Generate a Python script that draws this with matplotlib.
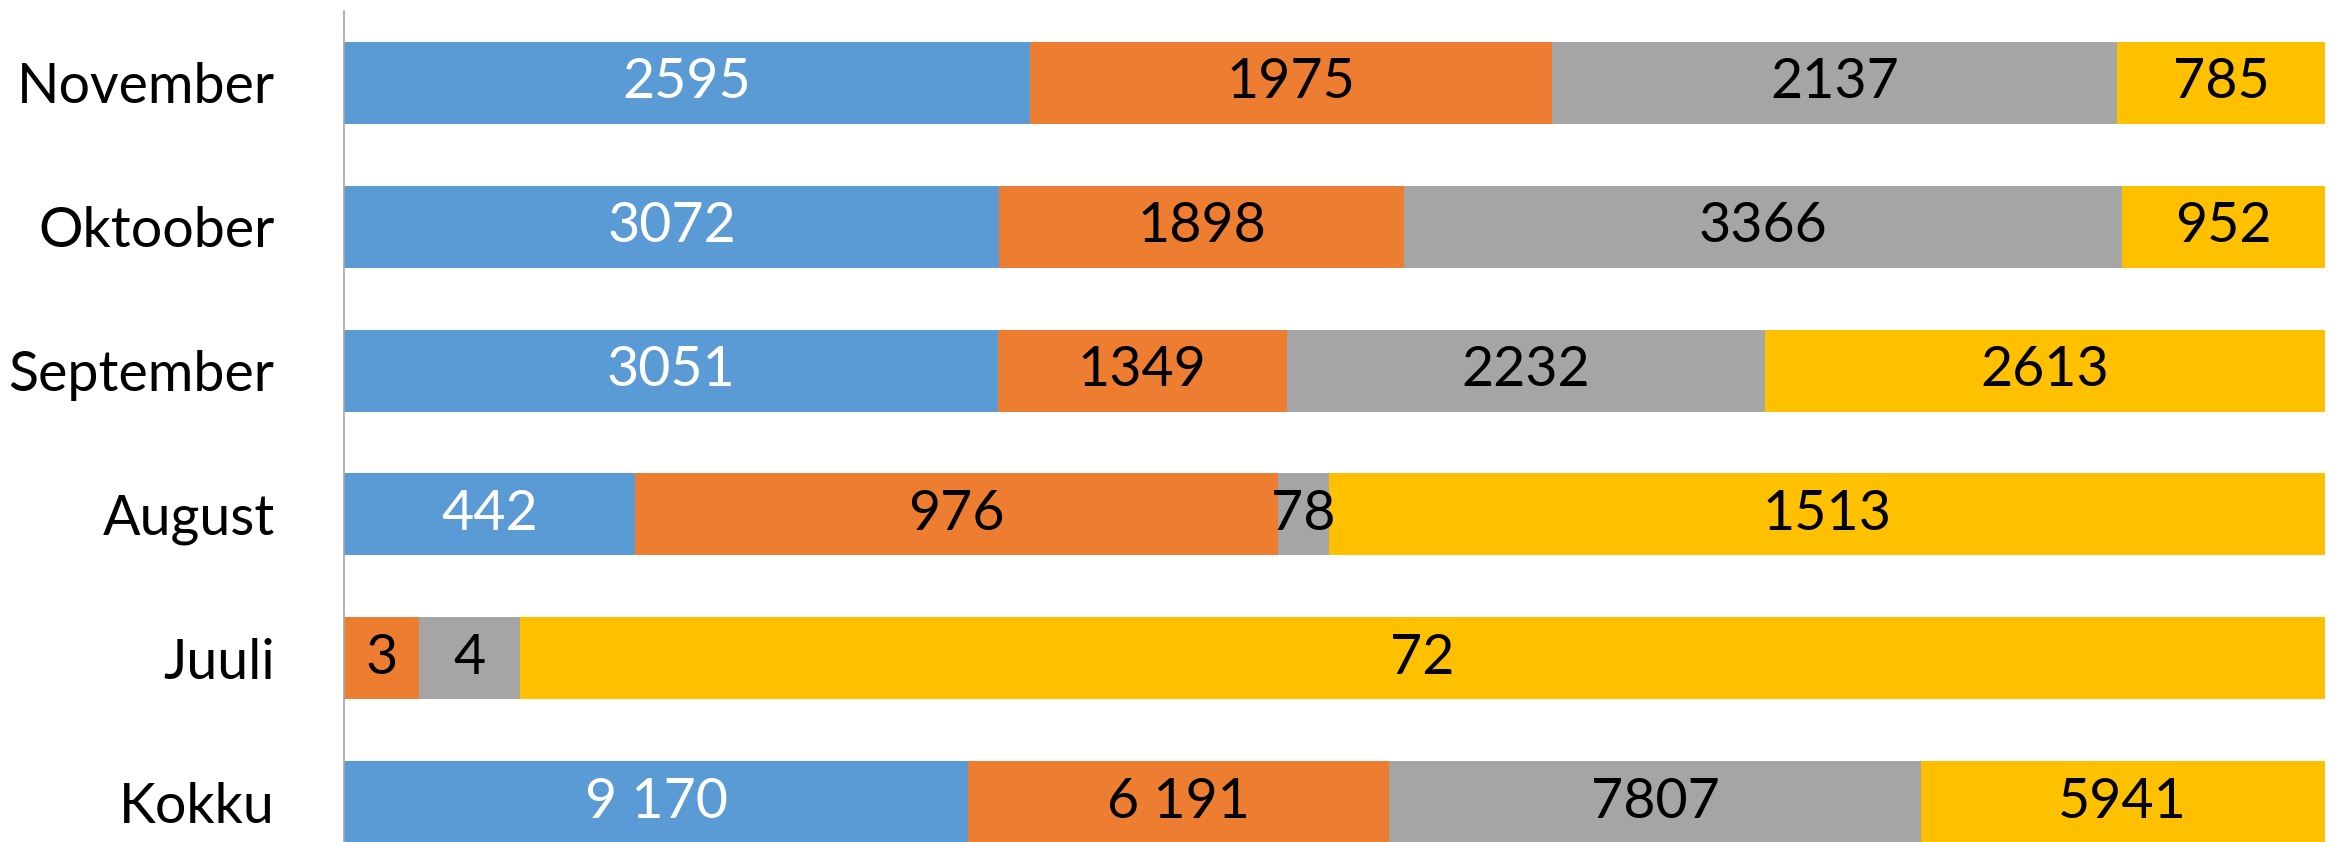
import matplotlib
matplotlib.use("Agg")
import matplotlib.pyplot as plt
import numpy as np

plt.rcParams['font.family'] = ['Lato', 'DejaVu Sans']

categories = ["Kokku", "Juuli", "August", "September", "Oktoober", "November"]
series1 = [9170, 0, 442, 3051, 3072, 2595]
series2 = [6191, 3, 976, 1349, 1898, 1975]
series3 = [7807, 4, 78, 2232, 3366, 2137]
series4 = [5941, 72, 1513, 2613, 952, 785]
labels1 = ["9 170", "", "442", "3051", "3072", "2595"]
labels2 = ["6 191", "3", "976", "1349", "1898", "1975"]
labels3 = ["7807", "4", "78", "2232", "3366", "2137"]
labels4 = ["5941", "72", "1513", "2613", "952", "785"]

colors = ["#5B9BD5", "#ED7D31", "#A5A5A5", "#FFC000"]
text_colors = ["white", "black", "black", "black"]

series = [series1, series2, series3, series4]
labels = [labels1, labels2, labels3, labels4]

data = np.array(series, dtype=float)
totals = data.sum(axis=0)
pct = data / totals * 100

fig = plt.figure(figsize=(23.33, 8.42), dpi=100)
ax = fig.add_axes([0.1475, -0.038, 0.849, 1.025])

y = np.arange(len(categories))
left = np.zeros(len(categories))
for i in range(4):
    ax.barh(y, pct[i], left=left, height=0.57, color=colors[i], linewidth=0)
    for j in range(len(categories)):
        if data[i, j] > 0 and labels[i][j]:
            ax.text(left[j] + pct[i, j] / 2, y[j], labels[i][j],
                    ha='center', va='center', color=text_colors[i], fontsize=40)
    left += pct[i]

ax.set_xlim(0, 100)
ax.set_ylim(-0.5, len(categories) - 0.5)
ax.set_yticks(y)
ax.set_yticklabels(categories, fontsize=40)
ax.tick_params(axis='y', length=0, pad=50)
ax.set_xticks([])
for s in ['top', 'right', 'bottom']:
    ax.spines[s].set_visible(False)
ax.spines['left'].set_color('#A6A6A6')
ax.spines['left'].set_linewidth(1.2)

fig.savefig("out.png", dpi=100)
